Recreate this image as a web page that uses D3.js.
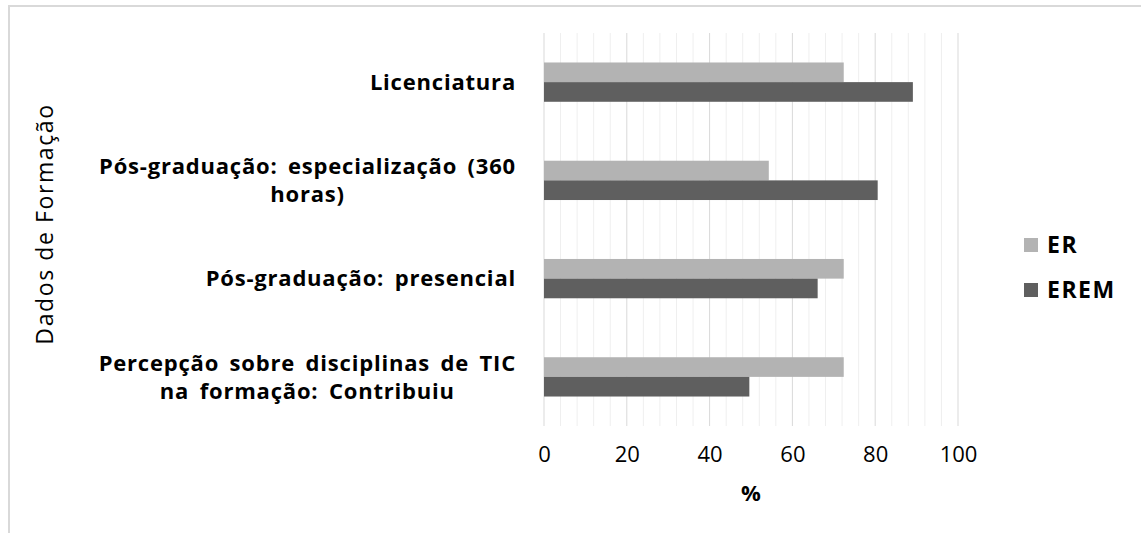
<!DOCTYPE html>
<html>
<head>
<meta charset="utf-8">
<script src="https://cdn.jsdelivr.net/npm/d3@7/dist/d3.min.js"></script>
<style>
  html, body { margin: 0; padding: 0; background: #fff; }
  svg text { font-family: "Open Sans", "DejaVu Sans", sans-serif; fill: #000; }
</style>
</head>
<body>
<svg id="chart" width="1141" height="533"></svg>
<script>
// dados
var categories = ["Licenciatura", "Pós-graduação: especialização (360 horas)", "Pós-graduação: presencial", "Percepção sobre disciplinas de TIC na formação: Contribuiu"];
var categoryLines = [["Licenciatura"], ["Pós-graduação: especialização (360", "horas)"], ["Pós-graduação: presencial"], ["Percepção sobre disciplinas de TIC", "na formação: Contribuiu"]];
var seriesNames = ["ER", "EREM"];
var erValues = [72.4, 54.3, 72.4, 72.4];
var eremValues = [89.1, 80.6, 66.1, 49.6];
var xTicks = [0, 20, 40, 60, 80, 100];
var colors = {"ER": "#b3b3b3", "EREM": "#5f5f5f"};

var svg = d3.select('#chart');
var plotTop = 33, plotBottom = 426;

var x = d3.scaleLinear().domain([0, 100]).range([544, 958]);
var y = d3.scaleBand().domain(categories).range([plotTop, plotBottom])
          .paddingInner(0.6).paddingOuter(0.3);
var ySub = d3.scaleBand().domain(seriesNames).range([0, y.bandwidth()]);

// moldura
svg.append('path')
   .attr('d', 'M9,533V6H1141')
   .attr('fill', 'none')
   .attr('stroke', '#d9d9d9')
   .attr('stroke-width', 2);

// grade: menores a cada 4, maiores a cada 20
var minor = d3.range(0, 101, 4).filter(function(v){ return v % 20 != 0; });
svg.append('g').selectAll('line').data(minor).enter().append('line')
   .attr('x1', function(d){ return x(d); }).attr('x2', function(d){ return x(d); })
   .attr('y1', plotTop).attr('y2', plotBottom)
   .attr('stroke', '#efefef').attr('stroke-width', 1);
svg.append('g').selectAll('line').data(xTicks).enter().append('line')
   .attr('x1', function(d){ return x(d); }).attr('x2', function(d){ return x(d); })
   .attr('y1', plotTop).attr('y2', plotBottom)
   .attr('stroke', '#d9d9d9').attr('stroke-width', 1);

// barras
var rows = categories.map(function(c, i){
    return {cat: c, vals: [{s: "ER", v: erValues[i]}, {s: "EREM", v: eremValues[i]}]};
});
var groups = svg.append('g').selectAll('g').data(rows).enter().append('g')
   .attr('transform', function(d){ return 'translate(0,' + y(d.cat) + ')'; });
groups.selectAll('rect').data(function(d){ return d.vals; }).enter().append('rect')
   .attr('x', x(0))
   .attr('y', function(d){ return ySub(d.s); })
   .attr('width', function(d){ return x(d.v) - x(0); })
   .attr('height', ySub.bandwidth())
   .attr('fill', function(d){ return colors[d.s]; });

// rotulos das categorias
var labels = svg.append('g').selectAll('text').data(categories).enter().append('text')
   .attr('text-anchor', 'middle')
   .attr('font-size', 22)
   .attr('letter-spacing', 0.8)
   .attr('word-spacing', 4)
   .attr('font-weight', 'bold');
labels.each(function(c, i){
    var lines = categoryLines[i];
    var t = d3.select(this);
    var cy = y(c) + y.bandwidth() / 2;
    var lh = 28;
    lines.forEach(function(line, k){
        t.append('tspan')
         .attr('x', 0)
         .attr('y', cy + (k - (lines.length - 1) / 2) * lh)
         .attr('dy', '0.35em')
         .text(line);
    });
});
// alinhar o bloco a direita em 516, linhas centradas
labels.each(function(){
    var bb = this.getBBox();
    var cx = 516 - bb.width / 2;
    d3.select(this).selectAll('tspan').attr('x', cx);
});

// eixo x
var xAxis = svg.append('g')
   .attr('transform', 'translate(0,' + 446 + ')')
   .call(d3.axisBottom(x).tickValues(xTicks).tickSize(0).tickPadding(0));
xAxis.select('.domain').remove();
xAxis.selectAll('text')
   .attr('font-size', 22)
   .attr('fill', '#000')
   .style('font-family', '"Open Sans", sans-serif');

svg.append('text')
   .attr('x', (x(0) + x(100)) / 2)
   .attr('y', 493)
   .attr('dy', '0.35em')
   .attr('text-anchor', 'middle')
   .attr('font-size', 22)
   .attr('font-weight', 'bold')
   .text('%');

// titulo do eixo y
svg.append('text')
   .attr('transform', 'translate(45,224) rotate(-90)')
   .attr('dy', '0.35em')
   .attr('text-anchor', 'middle')
   .attr('font-size', 23)
   .attr('letter-spacing', 1.6)
   .text('Dados de Formação');

// legenda
var legend = svg.append('g').selectAll('g').data(seriesNames).enter().append('g')
   .attr('transform', function(d, i){ return 'translate(1024,' + (238 + i * 45) + ')'; });
legend.append('rect')
   .attr('width', 14).attr('height', 14)
   .attr('fill', function(d){ return colors[d]; });
legend.append('text')
   .attr('x', 23).attr('y', 7).attr('dy', '0.35em')
   .attr('font-size', 23)
   .attr('letter-spacing', 1.5)
   .attr('font-weight', 'bold')
   .text(function(d){ return d; });
</script>
</body>
</html>
